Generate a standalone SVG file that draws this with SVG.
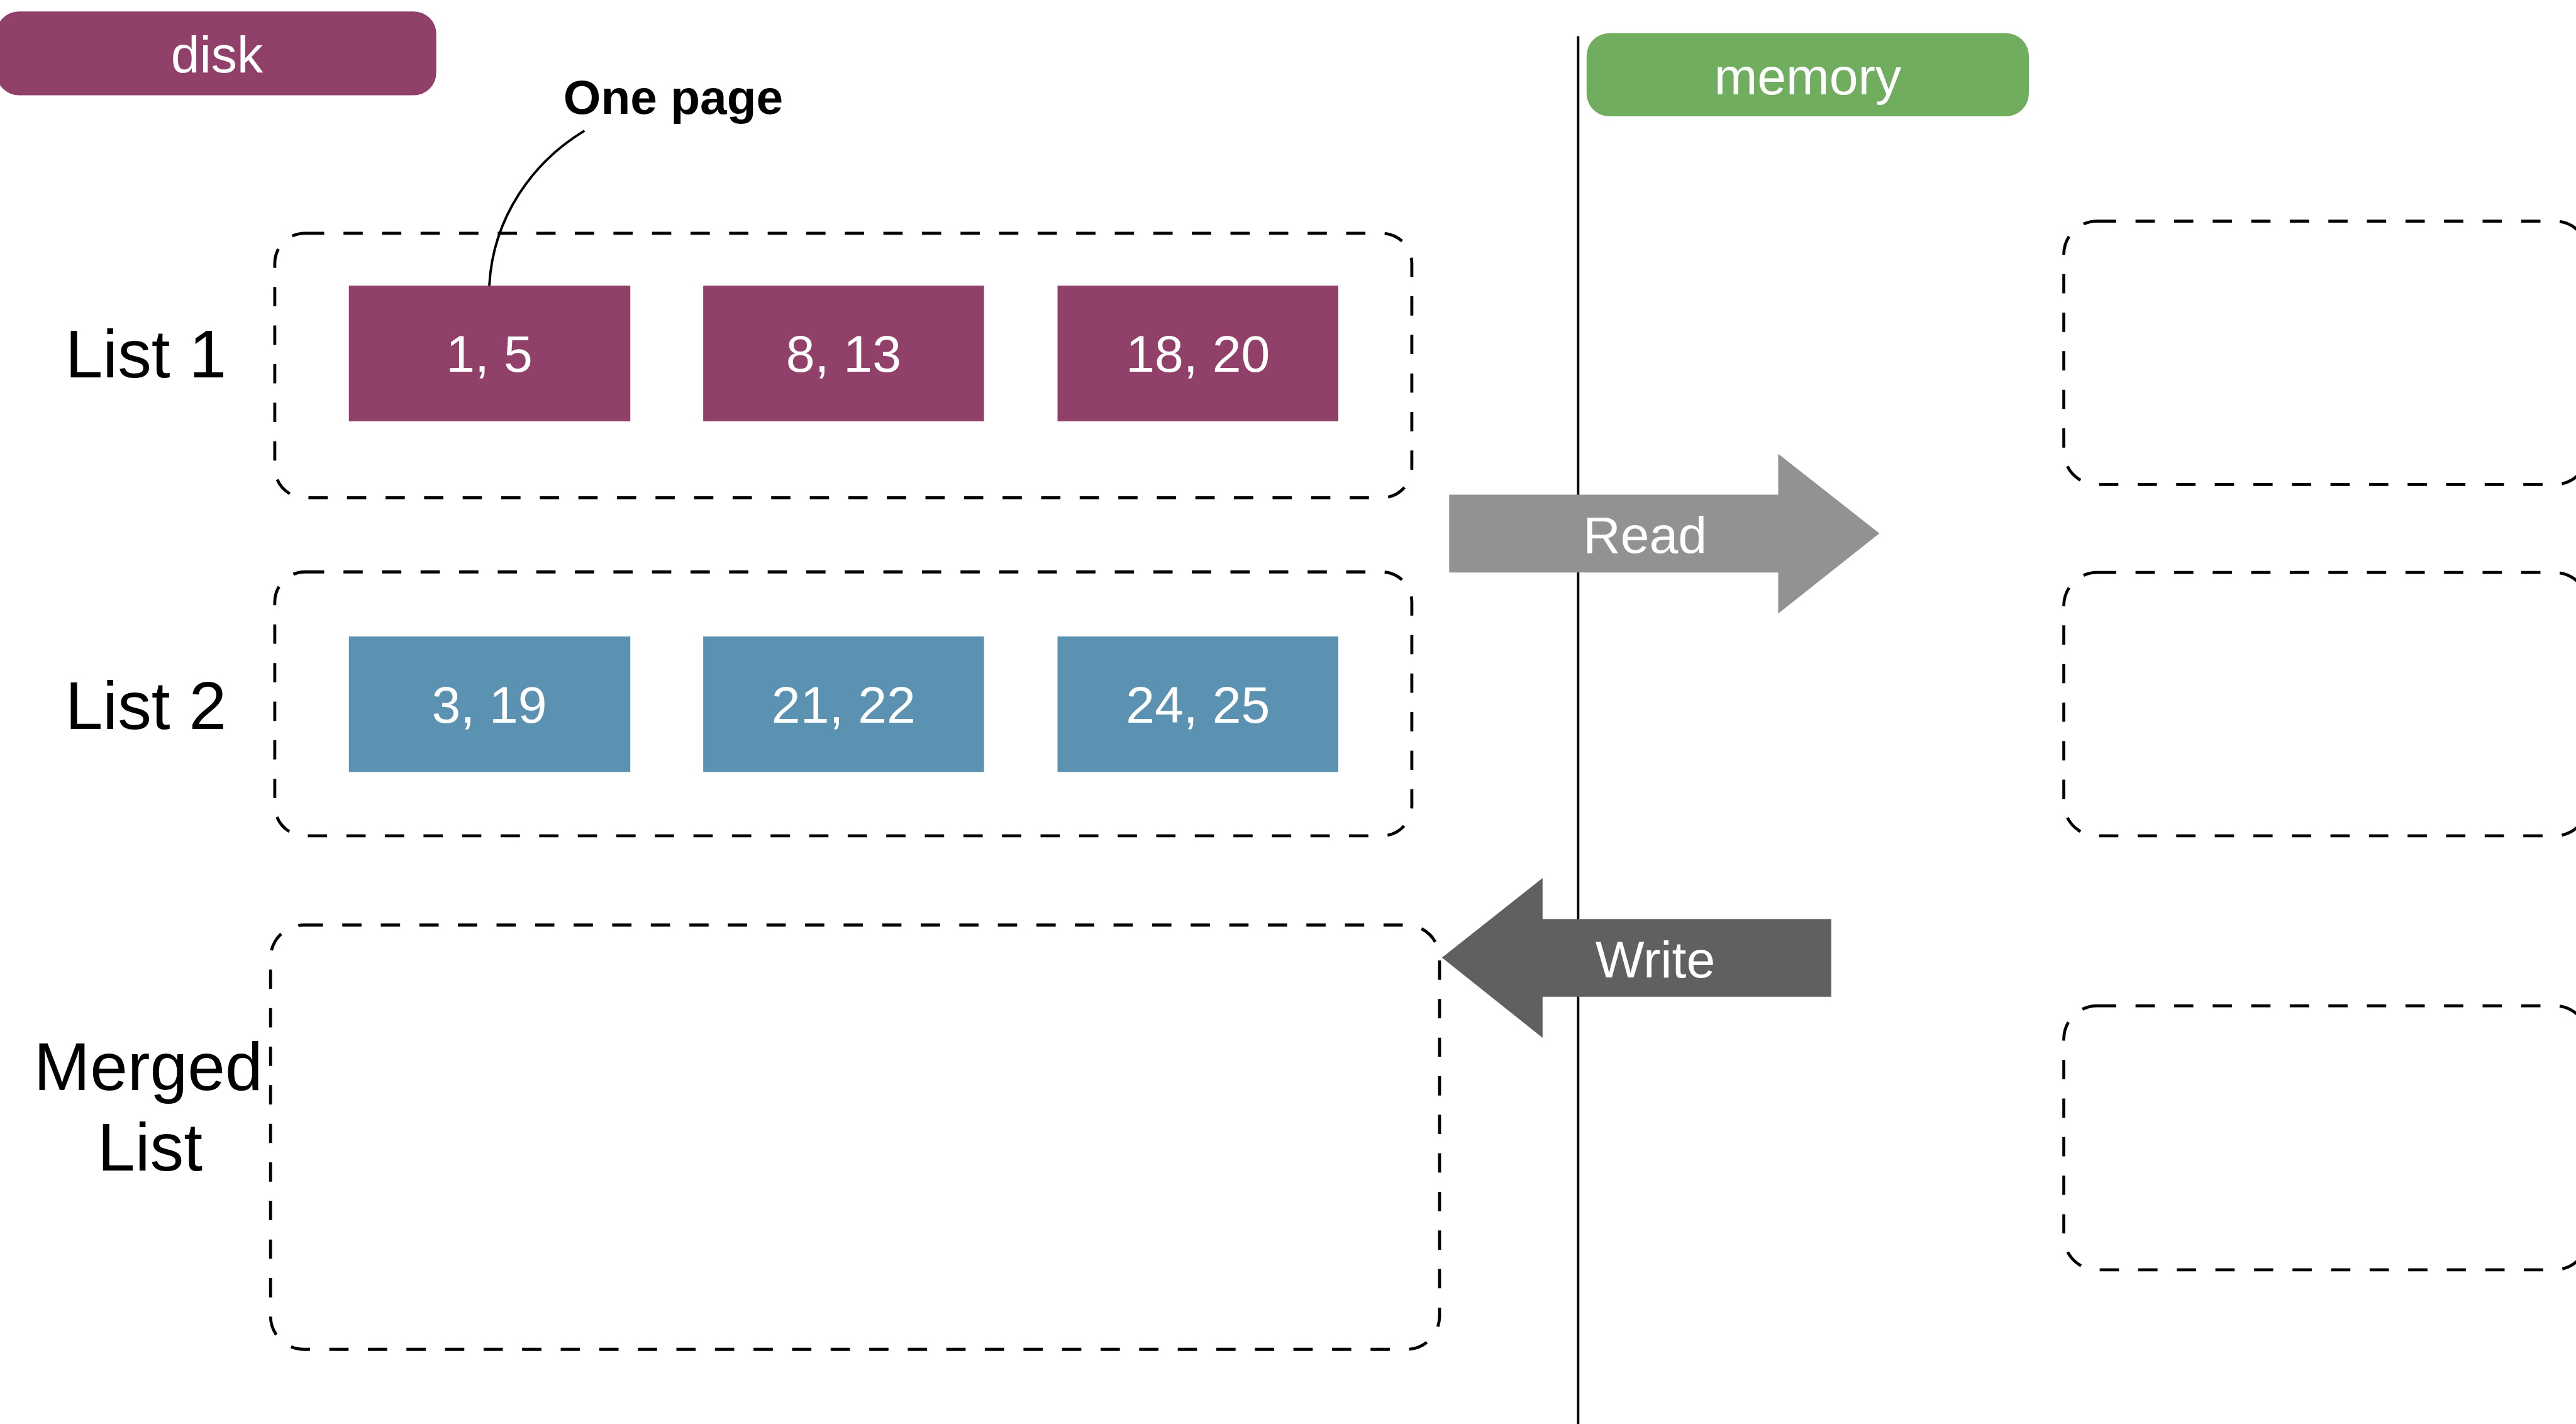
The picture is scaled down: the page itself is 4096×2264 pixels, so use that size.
<svg xmlns="http://www.w3.org/2000/svg" width="4096" height="2264" viewBox="0 0 4096 2264">
<style>
.lbl{font-family:"Liberation Sans",Arial,sans-serif;fill:#fff;font-size:86px;text-anchor:middle}
.side{font-family:"Liberation Sans",Arial,sans-serif;fill:#000;font-size:112px;text-anchor:middle}
.dash{fill:none;stroke:#000;stroke-width:5;stroke-dasharray:32 32}
.p1{fill:#914069}
.p2{fill:#5B91B1}
</style>
<rect width="4096" height="2264" fill="#fff"/>
<g transform="scale(0.95813)">
<line id="divider" x1="2619" y1="60" x2="2619" y2="2370" stroke="#000" stroke-width="4"/>
<g id="disk">
<rect x="-6" y="19" width="730" height="139" rx="37" fill="#914069"/>
<text class="lbl" x="360" y="120">disk</text>
</g>
<g id="memory">
<rect x="2633" y="55" width="734" height="138" rx="38" fill="#71AD5E"/>
<text class="lbl" x="3000" y="157">memory</text>
</g>
<g id="onepage-label">
<text x="935" y="189" font-family="Liberation Sans,Arial,sans-serif" font-weight="bold" font-size="80" fill="#000">One page</text>
</g>
<g id="list1">
<text class="side" x="242" y="626">List 1</text>
<rect class="dash" x="456" y="387" width="1887" height="439" rx="50"/>
</g>
<g id="list2">
<text class="side" x="242" y="1210">List 2</text>
<rect class="dash" x="456" y="949" width="1887" height="438" rx="50"/>
</g>
<g id="merged">
<text class="side" x="246" y="1809">Merged</text>
<text class="side" x="249" y="1942">List</text>
<rect class="dash" x="449" y="1535" width="1940" height="704" rx="55"/>
</g>
<g id="page-1-5"><rect class="p1" x="579" y="474" width="467" height="225"/><text class="lbl" x="812" y="617">1, 5</text></g>
<g id="page-8-13"><rect class="p1" x="1167" y="474" width="466" height="225"/><text class="lbl" x="1400" y="617">8, 13</text></g>
<g id="page-18-20"><rect class="p1" x="1755" y="474" width="466" height="225"/><text class="lbl" x="1988" y="617">18, 20</text></g>
<g id="page-3-19"><rect class="p2" x="579" y="1056" width="467" height="225"/><text class="lbl" x="812" y="1199">3, 19</text></g>
<g id="page-21-22"><rect class="p2" x="1167" y="1056" width="466" height="225"/><text class="lbl" x="1400" y="1199">21, 22</text></g>
<g id="page-24-25"><rect class="p2" x="1755" y="1056" width="466" height="225"/><text class="lbl" x="1988" y="1199">24, 25</text></g>
<g id="mem-buffer-1"><rect class="dash" x="3425" y="367" width="870" height="437" rx="55"/></g>
<g id="mem-buffer-2"><rect class="dash" x="3425" y="950" width="870" height="437" rx="55"/></g>
<g id="mem-buffer-3"><rect class="dash" x="3425" y="1669" width="870" height="438" rx="55"/></g>
<g id="connectors">
<path d="M970,217 C885,268 818,360 812,474" fill="none" stroke="#000" stroke-width="4"/>
<g id="read-arrow">
<polygon points="2405,821 2951,821 2951,753 3119,885 2951,1018 2951,950 2405,950" fill="#929292"/>
<text class="lbl" x="2730" y="917">Read</text>
</g>
<g id="write-arrow">
<polygon points="2393,1589 2560,1457 2560,1525 3039,1525 3039,1654 2560,1654 2560,1722" fill="#606060"/>
<text class="lbl" x="2747" y="1622">Write</text>
</g>
</g>
</g>
</svg>
